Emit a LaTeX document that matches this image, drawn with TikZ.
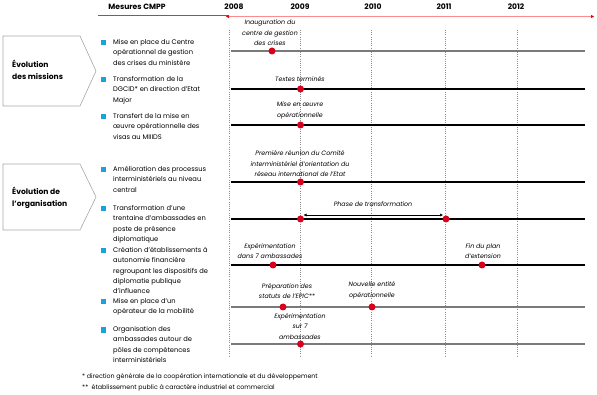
\documentclass[tikz,border=0pt]{standalone}
\usepackage{fontspec}
\setmainfont{Poppins}
\usetikzlibrary{arrows.meta}
\definecolor{puce}{HTML}{1BA1DC}
\definecolor{rouge}{HTML}{D9001B}
\definecolor{gris}{HTML}{7A7A7A}
\definecolor{cadre}{HTML}{A6A6A6}
\tikzset{
  mesure/.style={anchor=north west, align=left, inner sep=0pt,
    font=\fontsize{6.7}{10.3}\selectfont},
  etiq/.style={anchor=south, align=center, inner sep=0pt,
    font=\fontsize{6.3}{10.6}\selectfont\itshape},
  jalon/.style={circle, fill=rouge, inner sep=0pt, minimum size=7pt},
  carre/.style={fill=puce, inner sep=0pt, minimum size=5pt},
  categ/.style={draw=cadre, line width=.6pt},
}
\begin{document}
\begin{tikzpicture}[x=1pt, y=-1pt, >=Latex]
\useasboundingbox (0,0) rectangle (597,395);
% en-tete
\node[font=\fontsize{7.6}{9}\selectfont\bfseries, inner sep=0pt] (titre) at (137,7) {Mesures CMPP};
\coordinate (s1) at (98,15);
\coordinate (s2) at (228,15);
\draw[gray!80!black, line width=.5pt] (s1) -- (s2);
\foreach \x/\a in {234/2008,300/2009,373/2010,444/2011,516/2012}
{
    \node[font=\fontsize{7.6}{9}\selectfont\bfseries, inner sep=0pt] (an\a) at (\x,7) {\a};
}
\coordinate (f1) at (226,16.5);
\coordinate (f2) at (594,16.5);
\draw[red!45, line width=.6pt, arrows={Triangle[red!85!black, length=3pt, width=3pt]-Triangle[red!85!black, length=3pt, width=3pt]}] (f1) -- (f2);
\foreach \x in {229,300.5,371,445,517}
{
    \draw[gray!90, dash pattern=on .6pt off 1.6pt, line width=.5pt] (\x,30)--(\x,356);
}

% categories
\draw[categ] (3,36)--(80,36)--(96,71)--(80,106)--(3,106)--cycle;
\node[anchor=west, align=left, inner sep=0pt, font=\fontsize{7.6}{12.5}\selectfont\bfseries] (cat1) at (12,70) {Évolution\\des missions};
\draw[categ] (3,164)--(80,164)--(96,197)--(80,230)--(3,230)--cycle;
\node[anchor=west, align=left, inner sep=0pt, font=\fontsize{7.6}{12.5}\selectfont\bfseries] (cat2) at (12,198) {Évolution de\\l'organisation};

% mesures
\foreach \y/\t in {43/{Mise en place du Centre\\opérationnel de gestion\\des crises du ministère},
    80/{Transformation de la\\DGCID* en direction d'Etat\\Major},
    117/{Transfert de la mise en\\œuvre opérationnelle des\\visas au MIIIDS},
    170/{Amélioration des processus\\interministériels au niveau\\central},
    209/{Transformation d'une\\trentaine d'ambassades en\\poste de présence\\diplomatique},
    251/{Création d'établissements à\\autonomie financière\\regroupant les dispositifs de\\diplomatie publique\\d'influence},
    302/{Mise en place d'un\\opérateur de la mobilité},
    330/{Organisation des\\ambassades autour de\\pôles de compétences\\interministériels}}
{
    \node[carre] at (103.5,\y) {};
    \node[mesure] at (113,\y-3.8) {\t};
}

% lignes de temps
\foreach \y/\c in {51/gris,89/black,125/black,182/black,219/black,265/black,307/gris,344/gris}
{
    \draw[\c, line width=1.8pt] (231,\y)--(585,\y);
}

% jalons
\node[jalon] (j1) at (272,51) {};
\node[jalon] (j2) at (300.5,89) {};
\node[jalon] (j3) at (300.5,125) {};
\node[jalon] (j4) at (300.5,182) {};
\node[jalon] (j5a) at (300.5,219) {};
\node[jalon] (j5b) at (446,219) {};
\node[jalon] (j6a) at (273,265) {};
\node[jalon] (j6b) at (482,265) {};
\node[jalon] (j7a) at (283,307) {};
\node[jalon] (j7b) at (372,307) {};
\node[jalon] (j8) at (300.5,344) {};

\draw[<->, >={Latex[length=3pt,width=3pt]}, line width=.5pt] ([xshift=3pt, yshift=4pt]j5a.center)--([xshift=-3pt, yshift=4pt]j5b.center);

% etiquettes
\node[etiq] at (270,46) {Inauguration du\\centre de gestion\\des crises};
\node[etiq] at (300,81.5) {Textes terminés};
\node[etiq] at (300,119) {Mise en œuvre\\opérationnelle};
\node[etiq] at (300,177) {Première réunion du Comité\\interministériel d'orientation du\\réseau international de l'Etat};
\node[etiq] at (373,207) {Phase de transformation};
\node[etiq] at (270,259) {Expérimentation\\dans 7 ambassades};
\node[etiq] at (483,259) {Fin du plan\\d'extension};
\node[etiq] at (287,299) {Préparation des\\statuts de l'EPIC**};
\node[etiq] at (372,299) {Nouvelle entité\\opérationnelle};
\node[etiq] at (300,339.5) {Expérimentation\\sur 7\\ambassades};

% notes
\node[anchor=west, inner sep=0pt, font=\fontsize{6.3}{8}\selectfont] (n1) at (82,377) {* direction générale de la coopération internationale et du développement};
\node[anchor=west, inner sep=0pt, font=\fontsize{6.3}{8}\selectfont] (n2) at (82,388) {**\ \ établissement public à caractère industriel et commercial};
\end{tikzpicture}
\end{document}
